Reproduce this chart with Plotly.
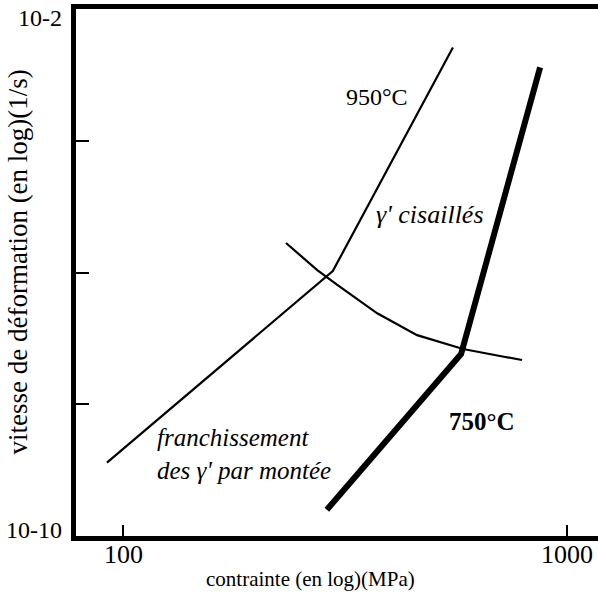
import math
import plotly.graph_objects as go

# Stress (MPa) and strain rate (1/s) along each deformation-mechanism curve
stress_950 = [92, 297, 554]
rate_950 = [1.3e-9, 1.05e-6, 2.6e-3]

stress_750 = [288, 578, 871]
rate_750 = [2.5e-10, 5.8e-8, 1.3e-3]

stress_boundary = [233, 274, 304, 374, 460, 584, 707, 793]
rate_boundary = [2.8e-6, 1.09e-6, 6.5e-7, 2.4e-7, 1.12e-7, 6.9e-8, 5.4e-8, 4.7e-8]

x_tickvals = [100, 1000]
x_ticktext = ["100", "1000"]
y_tickvals = [1e-10, 1e-8, 1e-6, 1e-4, 1e-2]
y_labels = {-2: "10-2", -10: "10-10"}

FONT = "Liberation Serif, Times New Roman, serif"

fig = go.Figure()
fig.add_trace(go.Scatter(x=stress_950, y=rate_950, mode="lines",
                         line=dict(color="black", width=2.2)))
fig.add_trace(go.Scatter(x=stress_boundary, y=rate_boundary, mode="lines",
                         line=dict(color="black", width=2.2)))
fig.add_trace(go.Scatter(x=stress_750, y=rate_750, mode="lines",
                         line=dict(color="black", width=6)))

annotations = []
# decade labels on the strain-rate axis
for exp, txt in y_labels.items():
    annotations.append(dict(x=0, xref="paper", y=exp, yref="y", text=txt,
                            xanchor="right", yanchor="middle", xshift=-12,
                            yshift=-9 if exp == -2 else 6, showarrow=False,
                            font=dict(size=24)))
# stress tick labels, set just under the axis line
for val, txt in zip(x_tickvals, x_ticktext):
    annotations.append(dict(x=math.log10(val), xref="x", y=0, yref="paper",
                            text=txt, xanchor="center", yanchor="middle",
                            yshift=-18, showarrow=False, font=dict(size=26)))

# curve and regime labels (positions in log units)
labels = [
    dict(x=2.572, y=-3.336, text="950°C", font=dict(size=24)),
    dict(x=2.809, y=-8.257, text="<b>750°C</b>", font=dict(size=25)),
    dict(x=2.692, y=-5.113, text="<i>γ' cisaillés</i>", font=dict(size=26)),
    dict(x=2.072, y=-8.758, text="<i>franchissement<br>des γ' par montée</i>",
         xanchor="left", align="left", font=dict(size=25)),
]
for a in labels:
    a.update(showarrow=False, xref="x", yref="y")
annotations += labels

# axis titles
annotations += [
    dict(x=0.450, y=-0.0816, xref="paper", yref="paper",
         text="contrainte (en log)(MPa)", showarrow=False,
         xanchor="center", yanchor="middle", font=dict(size=21)),
    dict(x=-0.111, y=0.519, xref="paper", yref="paper",
         text="vitesse de déformation (en log)(1/s)", textangle=-90,
         showarrow=False, xanchor="center", yanchor="middle",
         font=dict(size=27)),
]

fig.update_layout(
    width=598, height=596,
    margin=dict(l=76, r=0, t=9, b=60),
    paper_bgcolor="white", plot_bgcolor="white",
    showlegend=False,
    font=dict(family=FONT, color="black"),
    annotations=annotations,
    xaxis=dict(type="log", range=[1.894, 3.0705],
               tickmode="array", tickvals=x_tickvals,
               ticktext=[""] * len(x_tickvals),
               ticks="inside", ticklen=11, tickwidth=2, tickcolor="black",
               showline=True, linewidth=5, linecolor="black", mirror=True,
               showgrid=False, zeroline=False),
    yaxis=dict(type="log", range=[-10, -2],
               tickmode="array", tickvals=y_tickvals,
               ticktext=[""] * len(y_tickvals),
               ticks="inside", ticklen=13, tickwidth=2, tickcolor="black",
               showline=True, linewidth=5, linecolor="black",
               showgrid=False, zeroline=False),
)

fig.write_html("out.html")
